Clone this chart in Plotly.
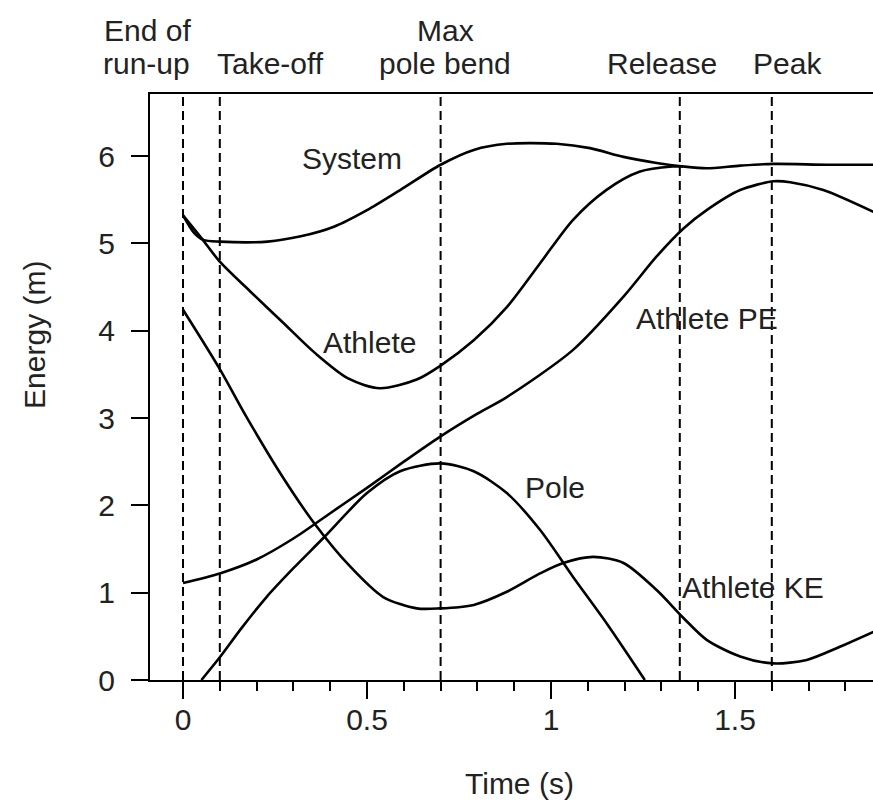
import plotly.graph_objects as go

# ---- data ----
sys_t = [0, 0.03, 0.055, 0.1, 0.23, 0.32, 0.41, 0.5, 0.59, 0.70, 0.79, 0.88, 1.015, 1.106, 1.197, 1.287, 1.36, 1.423, 1.514, 1.604, 1.75, 1.876]
sys_e = [5.32, 5.12, 5.04, 5.02, 5.02, 5.08, 5.19, 5.38, 5.61, 5.90, 6.07, 6.14, 6.14, 6.09, 5.99, 5.92, 5.88, 5.86, 5.89, 5.91, 5.90, 5.90]

ath_t = [0, 0.05, 0.1, 0.18, 0.27, 0.36, 0.45, 0.535, 0.635, 0.70, 0.79, 0.88, 0.97, 1.06, 1.15, 1.24, 1.33, 1.36]
ath_e = [5.32, 5.06, 4.79, 4.46, 4.10, 3.74, 3.45, 3.34, 3.44, 3.60, 3.89, 4.27, 4.77, 5.27, 5.61, 5.82, 5.88, 5.88]

pe_t = [0, 0.1, 0.2, 0.3, 0.4, 0.5, 0.6, 0.7, 0.8, 0.88, 1.06, 1.197, 1.287, 1.36, 1.423, 1.514, 1.604, 1.65, 1.74, 1.876]
pe_e = [1.11, 1.22, 1.38, 1.62, 1.91, 2.20, 2.50, 2.79, 3.05, 3.24, 3.78, 4.39, 4.85, 5.17, 5.38, 5.61, 5.71, 5.70, 5.61, 5.36]

pole_t = [0.05, 0.1, 0.16, 0.227, 0.30, 0.38, 0.5, 0.59, 0.70, 0.79, 0.88, 0.97, 1.06, 1.151, 1.255]
pole_e = [0.0, 0.26, 0.60, 0.95, 1.28, 1.62, 2.14, 2.39, 2.48, 2.39, 2.14, 1.72, 1.18, 0.65, 0.0]

ke_t = [0, 0.1, 0.17, 0.27, 0.354, 0.454, 0.544, 0.635, 0.698, 0.79, 0.88, 0.97, 1.033, 1.115, 1.197, 1.287, 1.36, 1.423, 1.514, 1.604, 1.695, 1.785, 1.876]
ke_e = [4.24, 3.56, 3.03, 2.33, 1.81, 1.30, 0.95, 0.82, 0.82, 0.86, 1.01, 1.22, 1.34, 1.41, 1.34, 1.03, 0.71, 0.46, 0.27, 0.19, 0.23, 0.38, 0.55]

event_times = [0, 0.1, 0.7, 1.35, 1.6]

curve_labels = ["System", "Athlete", "Athlete PE", "Pole", "Athlete KE"]
curve_label_t = [0.458, 0.506, 1.4226, 1.011, 1.550]
curve_label_e = [5.97, 3.87, 4.14, 2.20, 1.06]

FONT = "Liberation Sans, Arial, sans-serif"
FS = 30

fig = go.Figure()
for t, e, name in [(sys_t, sys_e, "System"), (ath_t, ath_e, "Athlete"),
                   (pe_t, pe_e, "Athlete PE"), (pole_t, pole_e, "Pole"),
                   (ke_t, ke_e, "Athlete KE")]:
    fig.add_trace(go.Scatter(x=t, y=e, mode="lines", name=name,
                             line=dict(color="black", width=2.6, shape="spline", smoothing=0.8),
                             showlegend=False, hoverinfo="skip"))

for et in event_times:
    fig.add_shape(type="line", xref="x", yref="paper", x0=et, x1=et, y0=0, y1=1,
                  line=dict(color="black", width=2, dash="9px,5px"), layer="below")

annotations = []
for txt, t, e in zip(curve_labels, curve_label_t, curve_label_e):
    annotations.append(dict(text=txt, x=t, y=e, xref="x", yref="y", showarrow=False,
                            xanchor="center", yanchor="middle",
                            font=dict(family=FONT, size=FS, color="#222")))

top_labels = [("End of", -0.0035, 1.1092), ("run-up", -0.005, 1.0512),
              ("Take-off", 0.166, 1.0512), ("Max", 0.4087, 1.1092),
              ("pole bend", 0.408, 1.0512), ("Release", 0.708, 1.0512),
              ("Peak", 0.8817, 1.0512)]
for txt, px, py in top_labels:
    annotations.append(dict(text=txt, x=px, y=py, xref="paper", yref="paper", showarrow=False,
                            xanchor="center", yanchor="middle",
                            font=dict(family=FONT, size=FS, color="#222")))

annotations.append(dict(text="Time (s)", x=0.5104, y=-0.1758, xref="paper", yref="paper",
                        showarrow=False, xanchor="center", yanchor="middle",
                        font=dict(family=FONT, size=FS, color="#222")))
annotations.append(dict(text="Energy (m)", x=-0.159, y=0.589, xref="paper", yref="paper",
                        showarrow=False, xanchor="center", yanchor="middle", textangle=-90,
                        font=dict(family=FONT, size=FS, color="#222")))

fig.update_layout(
    width=873, height=804,
    margin=dict(l=150, r=0, t=94, b=124),
    plot_bgcolor="white", paper_bgcolor="white",
    annotations=annotations,
    xaxis=dict(range=[-0.0897, 1.875], showgrid=False, zeroline=False,
               showline=True, linecolor="black", linewidth=2, mirror=True,
               ticks="outside", ticklen=17, tickwidth=2, tickcolor="black",
               tickvals=[0, 0.5, 1, 1.5], ticktext=["0", "0.5", "1", "1.5"],
               tickfont=dict(family=FONT, size=FS, color="#222"),
               ticklabelstandoff=-5,
               minor=dict(dtick=0.1, tick0=0, ticks="outside", ticklen=9, tickwidth=2, tickcolor="black")),
    yaxis=dict(range=[0, 6.71], showgrid=False, zeroline=False,
               showline=True, linecolor="black", linewidth=2, mirror=False,
               ticks="outside", ticklen=17, tickwidth=2, tickcolor="black",
               tickvals=[0, 1, 2, 3, 4, 5, 6],
               tickfont=dict(family=FONT, size=FS, color="#222"),
               ticklabelstandoff=10),
)

fig.write_html("out.html", config={"displayModeBar": False},
               post_script="document.body.style.margin='0';document.body.style.overflow='hidden';")
